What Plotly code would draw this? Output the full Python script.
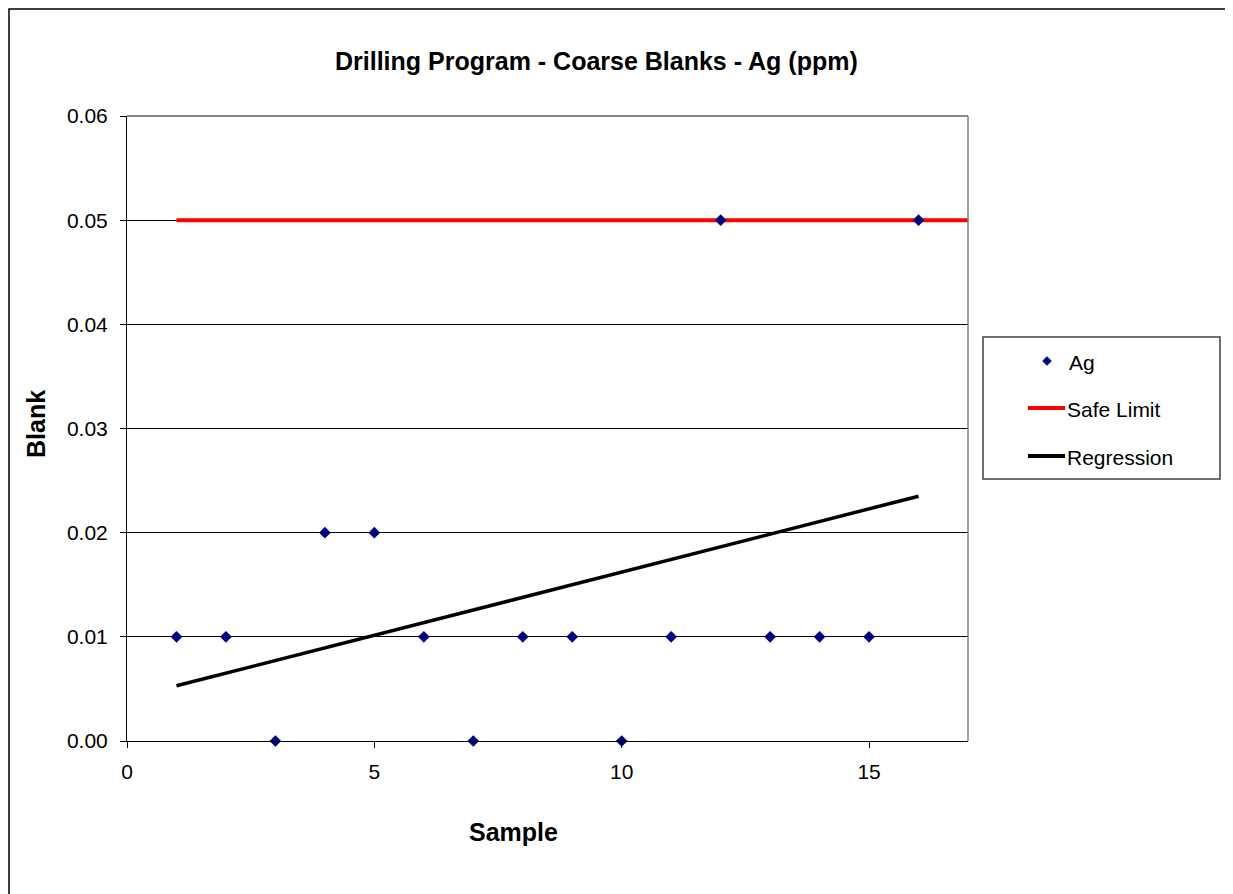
import plotly.graph_objects as go

# ---- data ----
sample = [1, 2, 3, 4, 5, 6, 7, 8, 9, 10, 11, 12, 13, 14, 15, 16]
ag = [0.01, 0.01, 0.00, 0.02, 0.02, 0.01, 0.00, 0.01, 0.01, 0.00, 0.01, 0.05, 0.01, 0.01, 0.01, 0.05]
safe_x = [1, 17]
safe_y = [0.05, 0.05]
reg_x = [1, 16]
reg_y = [0.0053, 0.0235]
x_ticks = [0, 5, 10, 15]
y_ticks = [0.00, 0.01, 0.02, 0.03, 0.04, 0.05, 0.06]

# page body has an 8px margin; reference pixel coords are shifted by it
OFF = 8
W, H = 1233 - OFF, 894 - OFF
L, R, T, B = 127 - OFF, 968 - OFF, 116 - OFF, 741 - OFF
PW, PH = R - L, B - T


def px(x):
    return (x - OFF - L) / PW


def py(y):
    return (B - (y - OFF)) / PH


FONT = "Arial, Liberation Sans, sans-serif"

fig = go.Figure()
fig.add_trace(go.Scatter(x=safe_x, y=safe_y, mode="lines", name="Safe Limit",
                         line=dict(color="#FF0000", width=4), cliponaxis=False))
fig.add_trace(go.Scatter(x=reg_x, y=reg_y, mode="lines", name="Regression",
                         line=dict(color="#000000", width=3.5), cliponaxis=False))
fig.add_trace(go.Scatter(x=sample, y=ag, mode="markers", name="Ag",
                         marker=dict(symbol="diamond", size=9, color="#000080",
                                     line=dict(width=0)), cliponaxis=False))

fig.update_layout(
    width=W, height=H, autosize=False,
    margin=dict(l=L, r=W - R, t=T, b=H - B),
    paper_bgcolor="white", plot_bgcolor="white",
    showlegend=False,
    font=dict(family=FONT, size=21, color="black"),
    xaxis=dict(range=[0, 17], tickvals=x_ticks, ticks="outside", ticklen=6,
               tickcolor="black", showline=True, linecolor="black", linewidth=1,
               showgrid=False, zeroline=False, ticklabelstandoff=6,
               tickfont=dict(size=21, family=FONT, color="black")),
    yaxis=dict(range=[0, 0.06], tickvals=y_ticks, tickformat=".2f", ticks="outside",
               ticklen=6, tickcolor="black", showline=True, linecolor="black",
               linewidth=1, showgrid=True, gridcolor="black", gridwidth=1,
               zeroline=False, ticklabelstandoff=8,
               tickfont=dict(size=21, family=FONT, color="black")),
)

shapes = []
# plot area border (top/right gray)
shapes.append(dict(type="line", xref="paper", yref="paper", x0=0, x1=1, y0=1, y1=1,
                   line=dict(color="#606060", width=1.5)))
shapes.append(dict(type="line", xref="paper", yref="paper", x0=1, x1=1, y0=0, y1=1,
                   line=dict(color="#808080", width=1.5)))
# outer chart border (as close to the page corner as the page allows)
shapes.append(dict(type="rect", xref="paper", yref="paper",
                   x0=px(OFF + 1), x1=px(1260), y0=py(OFF + 1), y1=py(920),
                   line=dict(color="black", width=1.5), fillcolor="rgba(0,0,0,0)"))
# legend box
shapes.append(dict(type="rect", xref="paper", yref="paper",
                   x0=px(983), x1=px(1220), y0=py(337), y1=py(479),
                   line=dict(color="#404040", width=1.5), fillcolor="white"))
# legend lines
shapes.append(dict(type="line", xref="paper", yref="paper",
                   x0=px(1028), x1=px(1065), y0=py(408), y1=py(408),
                   line=dict(color="#FF0000", width=4)))
shapes.append(dict(type="line", xref="paper", yref="paper",
                   x0=px(1028), x1=px(1065), y0=py(456), y1=py(456),
                   line=dict(color="#000000", width=4)))
# legend diamond
cx, cy, s = 1047, 361, 4.5
path = "M {},{} L {},{} L {},{} L {},{} Z".format(
    px(cx), py(cy - s), px(cx + s), py(cy), px(cx), py(cy + s), px(cx - s), py(cy))
shapes.append(dict(type="path", xref="paper", yref="paper", path=path,
                   fillcolor="#000080", line=dict(color="#000080", width=0.5)))
fig.update_layout(shapes=shapes)

annotations = [
    dict(text="<b>Drilling Program - Coarse Blanks - Ag (ppm)</b>", x=px(596), y=py(61),
         xanchor="center", yanchor="middle", font=dict(size=25, family=FONT)),
    dict(text="<b>Blank</b>", x=px(36), y=py(424), textangle=-90,
         xanchor="center", yanchor="middle", font=dict(size=25, family=FONT)),
    dict(text="<b>Sample</b>", x=px(513), y=py(832),
         xanchor="center", yanchor="middle", font=dict(size=25, family=FONT)),
    dict(text="Ag", x=px(1067), y=py(362), xanchor="left", yanchor="middle",
         font=dict(size=21, family=FONT)),
    dict(text="Safe Limit", x=px(1065), y=py(409), xanchor="left", yanchor="middle",
         font=dict(size=21, family=FONT)),
    dict(text="Regression", x=px(1065), y=py(457), xanchor="left", yanchor="middle",
         font=dict(size=21, family=FONT)),
]
for a in annotations:
    a.update(xref="paper", yref="paper", showarrow=False)
fig.update_layout(annotations=annotations)

fig.write_html("out.html")
